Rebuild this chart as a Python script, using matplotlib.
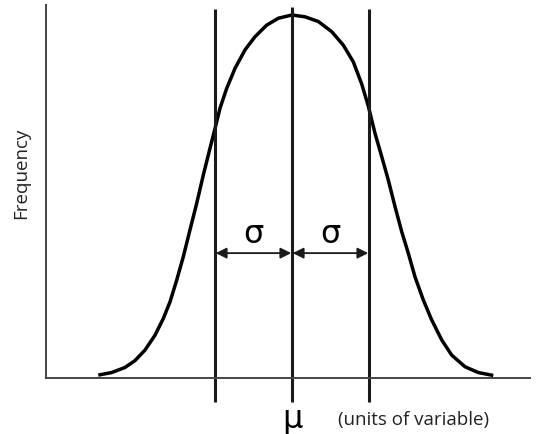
import matplotlib
matplotlib.use("Agg")
import matplotlib.pyplot as plt

# Curva de frecuencia (x en unidades de sigma, y relativa al pico)
curva_x = [-2.516, -2.342, -2.169, -2.039, -1.909, -1.779, -1.671, -1.584, -1.497,
           -1.412, -1.325, -1.238, -1.152, -1.065, -1.0, -0.935, -0.848, -0.740,
           -0.610, -0.481, -0.329, -0.178, 0.0, 0.169, 0.342, 0.516, 0.666, 0.796,
           0.905, 0.991, 1.078, 1.165, 1.251, 1.338, 1.425, 1.510, 1.597, 1.705,
           1.814, 1.944, 2.074, 2.247, 2.419, 2.614]
curva_y = [0.008, 0.015, 0.029, 0.048, 0.077, 0.118, 0.164, 0.210, 0.270,
           0.334, 0.408, 0.481, 0.559, 0.633, 0.687, 0.743, 0.798, 0.853,
           0.904, 0.940, 0.972, 0.991, 1.0, 0.995, 0.982, 0.954, 0.917, 0.871,
           0.810, 0.749, 0.674, 0.610, 0.545, 0.472, 0.403, 0.344, 0.279, 0.215,
           0.160, 0.105, 0.063, 0.031, 0.015, 0.007]

# Líneas verticales: media y +-1 sigma
lineas_x = [-1.0, 0.0, 1.0]
lineas_top = [1.016, 1.022, 1.016]

# Flechas sigma
flechas = [(-1.0, 0.0), (0.0, 1.0)]
altura_flecha = 0.344
altura_sigma = 0.394

fig = plt.figure(figsize=(5.38, 4.34), dpi=100)
ax = fig.add_axes([46 / 538, 56 / 434, 484 / 538, 373 / 434])

ax.plot(curva_x, curva_y, color="black", lw=2.5, solid_capstyle="butt",
        solid_joinstyle="round")

for x, top in zip(lineas_x, lineas_top):
    ax.plot([x, x], [-0.066, top], color="#1a1a1a", lw=2.2, clip_on=False,
            solid_capstyle="butt")

for x0, x1 in flechas:
    ax.annotate("", xy=(x1 - 0.01, altura_flecha), xytext=(x0 + 0.01, altura_flecha),
                arrowprops=dict(arrowstyle="<|-|>", color="#1a1a1a", lw=1.3,
                                mutation_scale=16, shrinkA=0, shrinkB=0))
    ax.text((x0 + x1) / 2, altura_sigma, "σ", fontsize=23, ha="center", va="center",
            family="DejaVu Sans")

ax.text(0.0, -0.115, "μ", fontsize=23, ha="center", va="center", family="DejaVu Sans")
ax.text(0.6, -0.115, "(units of variable)", fontsize=13.5, ha="left", va="center",
        family="Open Sans", color="#222222")
fig.text(21 / 538, 1 - 173 / 434, "Frequency", rotation=90, fontsize=13.5,
         ha="center", va="center", family="Open Sans", color="#222222")

ax.set_xlim(-3.195, 3.091)
ax.set_ylim(0, 1.0275)
ax.set_xticks([])
ax.set_yticks([])
for lado in ["top", "right"]:
    ax.spines[lado].set_visible(False)
for lado in ["left", "bottom"]:
    ax.spines[lado].set_color("#444444")
    ax.spines[lado].set_linewidth(1.4)

fig.savefig("out.png", dpi=100)
